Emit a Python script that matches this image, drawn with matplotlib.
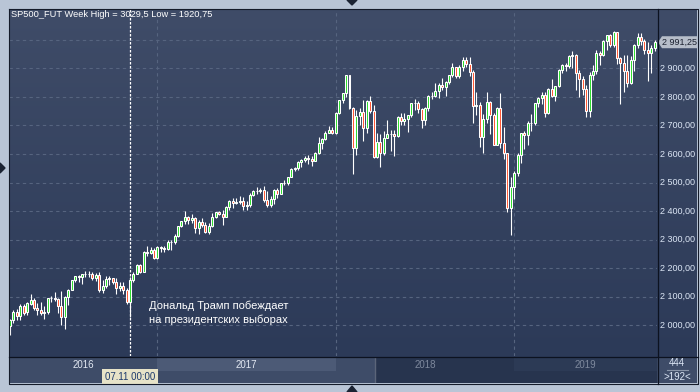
"""Weekly SP500 futures candles, 2016-2019, with the election-week marker."""

import matplotlib

matplotlib.use("Agg")
import matplotlib.pyplot as plt
import numpy as np
from matplotlib.colors import LinearSegmentedColormap
from matplotlib.patches import Polygon, Rectangle

plt.rcParams["font.family"] = ["Liberation Sans", "DejaVu Sans"]

# weekly bars, first week = 29.02.2016
opens = [
    1947, 1996, 2019, 2047, 2034, 2068, 2045, 2076, 2088, 2062, 2054, 2043, 2048, 2094, 2097, 2092,
    2068, 2030, 2098, 2125, 2157, 2171, 2169, 2178, 2180, 2180, 2166, 2176, 2124, 2136, 2161, 2164,
    2150, 2130, 2138, 2122, 2080, 2160, 2178, 2210, 2188, 2256, 2254, 2262,
    2236, 2274, 2272, 2268, 2292, 2293, 2313, 2348, 2364, 2380, 2370, 2376, 2342, 2360, 2352, 2325,
    2346, 2380, 2396, 2388, 2380, 2414, 2437, 2430, 2431, 2436, 2419, 2422, 2457, 2470, 2470, 2475,
    2440, 2423, 2441, 2475, 2460, 2498, 2500, 2518, 2547, 2551, 2573, 2580, 2586, 2581, 2577, 2602,
    2640, 2652, 2675, 2684,
    2674, 2744, 2788, 2812, 2875, 2762, 2622, 2734, 2748, 2692, 2785, 2752, 2590, 2642, 2605, 2657,
    2671, 2671, 2664, 2729, 2714, 2722, 2735, 2779, 2780, 2756, 2720, 2760, 2802, 2803, 2820, 2841,
    2834, 2851, 2875, 2903, 2873, 2906, 2930, 2915, 2886, 2769, 2770, 2660, 2724, 2783, 2738, 2633,
    2762, 2637, 2603, 2412,
    2486, 2535, 2598, 2672, 2665, 2708, 2710, 2777, 2795, 2806, 2745, 2826, 2804, 2837, 2895, 2910,
    2908, 2943, 2948, 2884, 2862, 2828, 2752, 2876, 2890, 2953, 2945, 2995, 3016, 2981, 3028, 2935,
    2920, 2890, 2850, 2930, 2982, 3010, 2994, 2964, 2955, 2970,
]
highs = [
    2009, 2022, 2055, 2056, 2073, 2075, 2083, 2110, 2097, 2078, 2080, 2069, 2094, 2104, 2118, 2094,
    2119, 2101, 2126, 2160, 2173, 2175, 2180, 2189, 2189, 2187, 2184, 2186, 2158, 2172, 2172, 2166,
    2166, 2150, 2151, 2132, 2168, 2188, 2214, 2214, 2259, 2278, 2273, 2272,
    2279, 2279, 2276, 2298, 2297, 2318, 2349, 2364, 2400, 2382, 2390, 2380, 2370, 2376, 2360, 2358,
    2392, 2398, 2402, 2404, 2417, 2440, 2446, 2446, 2454, 2450, 2434, 2463, 2473, 2483, 2480, 2489,
    2470, 2453, 2478, 2480, 2500, 2508, 2520, 2550, 2556, 2576, 2584, 2592, 2598, 2592, 2606, 2660,
    2655, 2680, 2697, 2694,
    2746, 2790, 2814, 2878, 2878, 2764, 2755, 2761, 2789, 2789, 2804, 2770, 2675, 2670, 2680, 2718,
    2683, 2683, 2733, 2742, 2742, 2738, 2780, 2791, 2784, 2762, 2765, 2805, 2817, 2849, 2850, 2865,
    2856, 2878, 2917, 2906, 2912, 2941, 2941, 2940, 2893, 2816, 2783, 2740, 2818, 2785, 2742, 2765,
    2815, 2695, 2605, 2520,
    2540, 2605, 2675, 2680, 2715, 2740, 2780, 2800, 2818, 2818, 2830, 2862, 2838, 2898, 2915, 2918,
    2945, 2962, 2950, 2893, 2872, 2840, 2887, 2910, 2965, 2962, 2999, 3018, 3020, 3029.5, 3028, 2940,
    2945, 2945, 2944, 2986, 3022, 3022, 3003, 2993, 2980, 3000,
]
lows = [
    1920.75, 1966, 2009, 2020, 2020, 2035, 2035, 2072, 2052, 2036, 2035, 2022, 2040, 2080, 2085, 2042,
    2000, 1986, 2070, 2122, 2150, 2153, 2146, 2170, 2170, 2157, 2155, 2118, 2112, 2129, 2140, 2143,
    2108, 2119, 2110, 2076, 2028, 2152, 2178, 2183, 2186, 2243, 2250, 2231,
    2233, 2258, 2255, 2264, 2264, 2286, 2308, 2344, 2356, 2355, 2357, 2322, 2320, 2344, 2322, 2320,
    2345, 2375, 2385, 2350, 2379, 2405, 2412, 2425, 2426, 2403, 2405, 2413, 2454, 2461, 2463, 2433,
    2415, 2414, 2425, 2446, 2460, 2491, 2492, 2518, 2541, 2545, 2556, 2571, 2566, 2557, 2575, 2601,
    2616, 2648, 2674, 2669,
    2669, 2739, 2780, 2800, 2758, 2530, 2598, 2700, 2647, 2675, 2745, 2585, 2587, 2553, 2595, 2655,
    2612, 2594, 2660, 2702, 2702, 2676, 2730, 2755, 2745, 2691, 2700, 2750, 2792, 2800, 2795, 2825,
    2803, 2846, 2870, 2865, 2865, 2892, 2903, 2874, 2710, 2735, 2625, 2603, 2710, 2670, 2631, 2630,
    2621, 2583, 2397, 2317,
    2443, 2524, 2570, 2617, 2630, 2680, 2703, 2765, 2775, 2730, 2740, 2798, 2785, 2836, 2885, 2890,
    2900, 2900, 2825, 2800, 2807, 2730, 2730, 2860, 2880, 2910, 2944, 2965, 2975, 2976, 2914, 2776,
    2818, 2835, 2845, 2890, 2972, 2982, 2950, 2855, 2885, 2960,
]
closes = [
    1999, 2020, 2047, 2032, 2069, 2044, 2078, 2088, 2062, 2054, 2043, 2048, 2094, 2097, 2093, 2067,
    2030, 2098, 2125, 2157, 2171, 2169, 2178, 2180, 2180, 2166, 2176, 2124, 2136, 2161, 2164, 2150,
    2130, 2138, 2122, 2080, 2160, 2178, 2210, 2188, 2256, 2254, 2262, 2236,
    2274, 2272, 2268, 2292, 2293, 2313, 2348, 2364, 2380, 2370, 2376, 2342, 2360, 2352, 2325, 2346,
    2380, 2396, 2388, 2380, 2414, 2437, 2430, 2431, 2436, 2419, 2422, 2457, 2470, 2470, 2475, 2440,
    2423, 2441, 2475, 2460, 2498, 2500, 2518, 2547, 2551, 2573, 2580, 2586, 2581, 2577, 2602, 2640,
    2652, 2675, 2684, 2674,
    2744, 2788, 2812, 2875, 2762, 2622, 2734, 2748, 2692, 2785, 2752, 2590, 2642, 2605, 2657, 2671,
    2671, 2664, 2729, 2714, 2722, 2735, 2779, 2780, 2756, 2720, 2760, 2802, 2803, 2820, 2841, 2834,
    2851, 2875, 2903, 2873, 2906, 2930, 2915, 2886, 2769, 2770, 2660, 2724, 2783, 2738, 2633, 2762,
    2637, 2603, 2412, 2486,
    2535, 2598, 2672, 2665, 2708, 2710, 2777, 2795, 2806, 2745, 2826, 2804, 2837, 2895, 2910, 2908,
    2943, 2948, 2884, 2862, 2828, 2752, 2876, 2890, 2953, 2945, 2995, 3016, 2981, 3028, 2935, 2920,
    2890, 2850, 2930, 2982, 3010, 2994, 2964, 2955, 2970, 2991.25,
]

year_labels = ["2016", "2017", "2018", "2019"]
year_starts = [44, 96, 148]          # bar index of the first week of 2017, 2018, 2019
election_bar = 36                    # week of 07.11.2016
price_levels = list(range(2000, 3001, 100))
last_price = closes[-1]
note = "Дональд Трамп побеждает\nна президентских выборах"
title = "SP500_FUT Week High = 3029,5 Low = 1920,75"

X_LIM = (0.73, 189.65)
Y_LIM = (1892.5, 3107.6)
W, H = 700, 392
PX_PER_PT = 347 / (Y_LIM[1] - Y_LIM[0])

FRAME = "#b9c5d6"
UP = "#2adc2a"
DOWN = "#ff5530"
GRID = "#56647f"
LABEL = "#dce6f5"


def fmt_price(p):
    return f"{p:,.2f}".replace(",", " ").replace(".", ",")


def px_axes(fig, x0, y0, x1, y1, **kw):
    return fig.add_axes([x0 / W, 1 - y1 / H, (x1 - x0) / W, (y1 - y0) / H], **kw)


fig = plt.figure(figsize=(7, 3.92), dpi=100, facecolor=FRAME)

# background gradient behind chart + price panel
bg = px_axes(fig, 9, 9, 697, 357)
cmap = LinearSegmentedColormap.from_list("bg", ["#2c3a58", "#3f4c68"])
bg.imshow(np.linspace(0, 1, 256).reshape(-1, 1), aspect="auto", cmap=cmap,
          extent=[0, 1, 0, 1], origin="lower")
bg.axis("off")

ax = px_axes(fig, 9, 9, 657, 356)
ax.patch.set_alpha(0)
for s in ax.spines.values():
    s.set_visible(False)
ax.set_xticks([])
ax.set_yticks([])
ax.set_xlim(*X_LIM)
ax.set_ylim(*Y_LIM)

ax.hlines(price_levels, *X_LIM, colors=GRID, linewidth=0.8, linestyles=(0, (3, 3)), zorder=1)
ax.vlines(year_starts, *Y_LIM, colors=GRID, linewidth=0.8, linestyles=(0, (3, 3)), zorder=1)
ax.vlines(election_bar, *Y_LIM, colors="white", linewidth=0.9, linestyles=(0, (2, 1.2)), zorder=2)

o = np.array(opens, dtype=float)
h = np.array(highs, dtype=float)
lo = np.array(lows, dtype=float)
c = np.array(closes, dtype=float)
idx = np.arange(len(c))
up = c >= o

ax.vlines(idx, lo, h, colors="white", linewidth=0.8, zorder=3)
ax.bar(idx, np.abs(c - o), bottom=np.minimum(o, c), width=0.58,
       color=np.where(up, UP, DOWN), edgecolor="white", linewidth=0.75, zorder=4)

ax.text(election_bar + 5.6, 2044, note, color="white", fontsize=8, va="center",
        ha="left", linespacing=1.45, zorder=5)

# price panel
rax = px_axes(fig, 657, 9, 697, 356)
rax.patch.set_alpha(0)
rax.set_ylim(*Y_LIM)
rax.set_xlim(0, 40)
rax.axis("off")
box_h = 6 / PX_PER_PT
for p in price_levels:
    if abs(p - last_price) < 2 * box_h:
        continue  # label sits under the last-price marker
    rax.text(3.2, p, fmt_price(p), color=LABEL, fontsize=6.5, va="center", ha="left")
ly = last_price
rax.add_patch(Polygon([(1, ly), (5, ly + box_h), (40, ly + box_h), (40, ly - box_h), (5, ly - box_h)],
                      closed=True, facecolor="#b6bdc9", edgecolor="none", zorder=5))
rax.text(5.2, ly, fmt_price(last_price), color="#1b2130", fontsize=6.5, va="center", ha="left", zorder=6)

# time axis
tax = px_axes(fig, 9, 357, 657, 383, sharex=ax)
tax.set_facecolor("#3e4c68")
for s in tax.spines.values():
    s.set_visible(False)
tax.set_xticks([])
tax.set_yticks([])
tax.set_ylim(0, 1)
nav_start = 107.4
tax.axvspan(year_starts[0], year_starts[1], ymin=0.46, ymax=1, color="#4c5a76", lw=0)
tax.axvspan(nav_start, X_LIM[1], color="#27344e", lw=0)
tax.axvspan(year_starts[2], X_LIM[1], ymin=0.46, ymax=1, color="#2c3a55", lw=0)
tax.axvline(nav_start, color="#5b6579", lw=1)
edges = [X_LIM[0]] + year_starts + [X_LIM[1]]
year_colors = ["#e2e8f2", "#e2e8f2", "#7e899d", "#7e899d"]
for lab, a, b, col in zip(year_labels, edges[:-1], edges[1:], year_colors):
    tax.text((a + b) / 2, 0.7, lab, color=col, fontsize=7, ha="center", va="center")
tax.text(election_bar, 0.24, "07.11 00:00", color="#1d3a6c", fontsize=7, ha="center", va="center",
         bbox=dict(boxstyle="square,pad=0.25", facecolor="#e7e3c8", edgecolor="none"))

# corner panel, frame and small arrows in pixel space
ov = fig.add_axes([0, 0, 1, 1])
ov.set_xlim(0, W)
ov.set_ylim(H, 0)
ov.axis("off")
ov.patch.set_alpha(0)
ov.add_patch(Rectangle((657, 357), 40, 26, facecolor="#3e4c68", edgecolor="none"))
ov.text(677, 363.5, "444", color=LABEL, fontsize=7, ha="center", va="center")
ov.plot([667, 688], [370, 370], color="#8a96aa", lw=0.8)
ov.text(677, 377, ">192<", color=LABEL, fontsize=7, ha="center", va="center")
ov.plot([8.5, 697.5, 697.5, 8.5, 8.5], [8.5, 8.5, 383.5, 383.5, 8.5], color="#141b2a", lw=0.8)
ov.plot([657.5, 657.5], [8.5, 383.5], color="#0c1220", lw=0.9)
ov.plot([8.5, 697.5], [356.5, 356.5], color="#0c1220", lw=0.9)
ov.add_patch(Polygon([(347, 0), (357, 0), (352, 5)], closed=True, color="#1b2333"))
ov.add_patch(Polygon([(347, 392), (357, 392), (352, 386)], closed=True, color="#1b2333"))
ov.add_patch(Polygon([(0, 163), (0, 173), (5, 168)], closed=True, color="#1b2333"))
ov.text(11, 14.5, title, color="white", fontsize=6.7, ha="left", va="center")

fig.savefig("out.png", dpi=100, facecolor=FRAME)
